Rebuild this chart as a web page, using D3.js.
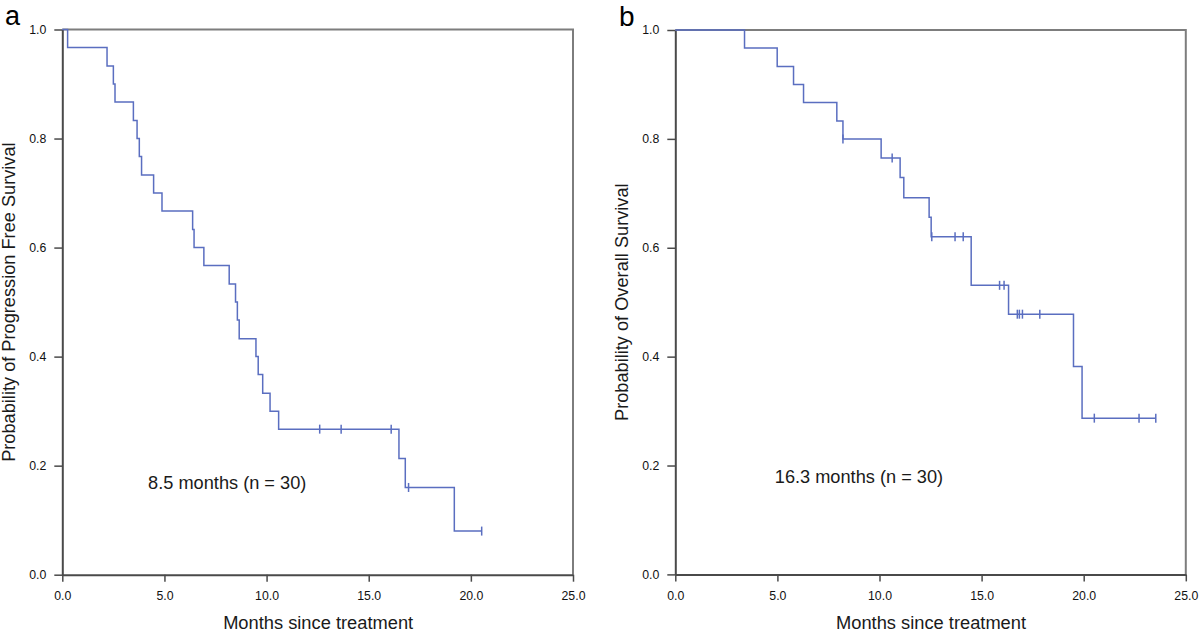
<!DOCTYPE html>
<html>
<head>
<meta charset="utf-8">
<script src="https://cdn.jsdelivr.net/npm/d3@7"></script>
<style>
  html, body { margin: 0; padding: 0; background: #fff; }
  svg { display: block; font-family: "Liberation Sans", Arial, sans-serif; }
</style>
</head>
<body>
<svg id="chart" width="1200" height="634"></svg>
<script>
// ---- Data ----
const xTickValues = [0, 5, 10, 15, 20, 25];
const yTickValues = [0, 0.2, 0.4, 0.6, 0.8, 1.0];

// Panel a: Progression-free survival (Kaplan–Meier steps: time of drop, survival after drop)
const pfsTimes = [0, 0.26, 2.19, 2.50, 2.58, 3.48, 3.66, 3.77, 3.88, 4.47, 4.88, 6.38, 6.45, 6.93,
                  8.17, 8.48, 8.57, 8.66, 9.48, 9.59, 9.81, 10.17, 10.59, 16.48, 16.79, 19.19];
const pfsSurv  = [1.000, 0.967, 0.933, 0.900, 0.867, 0.833, 0.800, 0.767, 0.733, 0.700, 0.667, 0.633, 0.600, 0.567,
                  0.533, 0.500, 0.467, 0.433, 0.400, 0.367, 0.333, 0.300, 0.267, 0.213, 0.160, 0.080];
const pfsEnd = 20.53;
const pfsCensored = [12.60, 13.65, 16.10, 16.95, 20.53];

// Panel b: Overall survival
const osTimes = [0, 3.39, 4.99, 5.79, 6.28, 7.91, 8.21, 10.08, 11.01, 11.19, 12.43, 12.53, 14.49, 16.32, 19.50, 19.92];
const osSurv  = [1.000, 0.967, 0.933, 0.900, 0.867, 0.833, 0.800, 0.765, 0.729, 0.692, 0.656, 0.620, 0.531, 0.478, 0.382, 0.287];
const osEnd = 23.53;
const osCensored = [8.21, 10.62, 12.56, 13.70, 14.10, 15.88, 16.10, 16.75, 16.85, 17.00, 17.85, 20.52, 22.71, 23.53];

const panels = [
  { letter: "a", yLabel: "Probability of Progression Free Survival", note: "8.5 months (n = 30)",
    times: pfsTimes, surv: pfsSurv, end: pfsEnd, censored: pfsCensored, noteX: 4.25, noteY: 0.157,
    left: 62.3, right: 573, top: 29.5, bottom: 574.7, letterX: 5, letterY: 24.5, letterSize: 27 },
  { letter: "b", yLabel: "Probability of Overall Survival", note: "16.3 months (n = 30)",
    times: osTimes, surv: osSurv, end: osEnd, censored: osCensored, noteX: 4.92, noteY: 0.167,
    left: 675.3, right: 1185.8, top: 30, bottom: 574.4, letterX: 619, letterY: 25.5, letterSize: 28 }
];

const svg = d3.select("#chart");
const lineColor = "#5a6ec0";

panels.forEach(p => {
  const x = d3.scaleLinear().domain([0, 25]).range([p.left, p.right]);
  const y = d3.scaleLinear().domain([0, 1]).range([p.bottom, p.top]);
  const g = svg.append("g");

  // frame (top & right)
  g.append("path")
    .attr("d", `M${x(0)},${y(1)}H${x(25)}V${y(0)}`)
    .attr("fill", "none").attr("stroke", "#7d7d7d").attr("stroke-width", 2);

  // axes
  const xAxis = d3.axisBottom(x).tickValues(xTickValues).tickFormat(d3.format(".1f"))
    .tickSizeInner(7).tickSizeOuter(0).tickPadding(10);
  const yAxis = d3.axisLeft(y).tickValues(yTickValues).tickFormat(d3.format(".1f"))
    .tickSizeInner(8).tickSizeOuter(0).tickPadding(8);

  const gx = g.append("g").attr("transform", `translate(0,${y(0)})`).call(xAxis);
  const gy = g.append("g").attr("transform", `translate(${x(0)},0)`).call(yAxis);
  [gx, gy].forEach(ax => {
    ax.select(".domain").attr("stroke", "#4a4a4a").attr("stroke-width", 2);
    ax.selectAll(".tick line").attr("stroke", "#4a4a4a").attr("stroke-width", 1.5);
    ax.selectAll(".tick text").attr("fill", "#111").style("font-size", "12.3px")
      .style("font-family", "'Liberation Sans', Arial, sans-serif");
  });

  // axis titles
  g.append("text")
    .attr("x", (x(0) + x(25)) / 2 + 0.5).attr("y", 629)
    .attr("text-anchor", "middle").attr("fill", "#1a1a1a")
    .style("font-size", "18.3px").text("Months since treatment");
  g.append("text")
    .attr("transform", `translate(${x(0) - 47.5},${(y(0) + y(1)) / 2}) rotate(-90)`)
    .attr("text-anchor", "middle").attr("fill", "#1a1a1a")
    .style("font-size", "18.2px").text(p.yLabel);

  // panel letter
  g.append("text")
    .attr("x", p.letterX).attr("y", p.letterY)
    .attr("fill", "#000").style("font-size", p.letterSize + "px").text(p.letter);

  // annotation
  g.append("text")
    .attr("x", x(p.noteX) - 1).attr("y", y(p.noteY))
    .attr("fill", "#1a1a1a").style("font-size", "18.2px").text(p.note);

  // KM step curve
  const pts = p.times.map((t, i) => [t, p.surv[i]]);
  pts.push([p.end, p.surv[p.surv.length - 1]]);
  const line = d3.line().x(d => x(d[0])).y(d => y(d[1])).curve(d3.curveStepAfter);
  g.append("path").attr("d", line(pts))
    .attr("fill", "none").attr("stroke", lineColor).attr("stroke-width", 1.5);

  // censor marks
  const survAt = t => {
    let s = 1;
    p.times.forEach((tt, i) => { if (tt <= t) s = p.surv[i]; });
    return s;
  };
  g.selectAll(".cens").data(p.censored).enter().append("line")
    .attr("x1", d => x(d)).attr("x2", d => x(d))
    .attr("y1", d => y(survAt(d)) - 4.5).attr("y2", d => y(survAt(d)) + 4.5)
    .attr("stroke", lineColor).attr("stroke-width", 1.5);
});
</script>
</body>
</html>
